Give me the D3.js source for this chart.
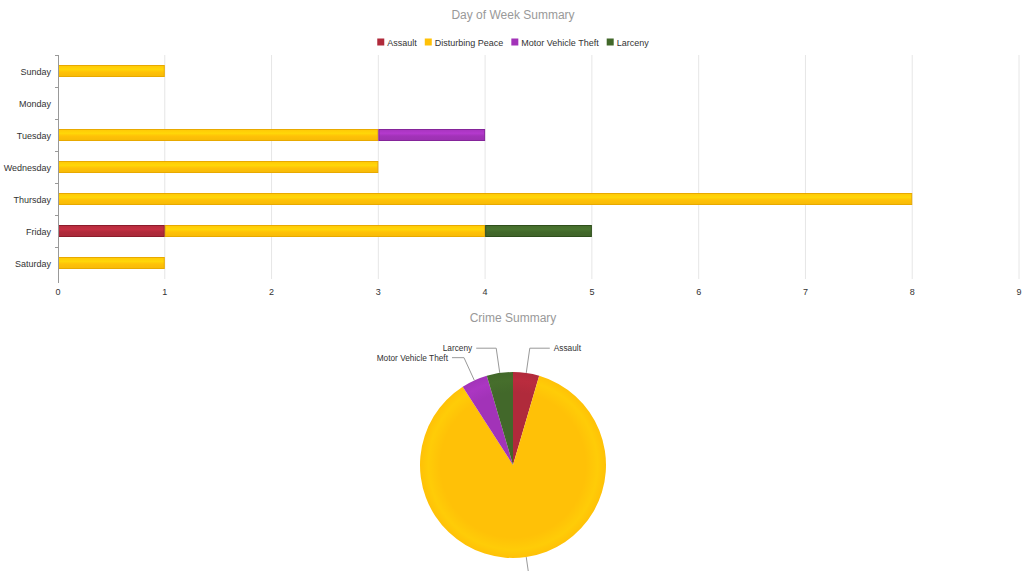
<!DOCTYPE html>
<html lang="en">
<head>
	<meta charset="UTF-8">
	<title>Day of Week Summary</title>
	<script src="https://d3js.org/d3.v7.min.js"></script>
	<style>
		body, html {
			margin: 0;
			padding: 0;
			width: 100%;
			height: 100%;
			overflow: hidden;
			background: #fff;
		}
		svg {
			display: block;
			font-family: "Liberation Sans", Arial, sans-serif;
		}
		.title {
			font-size: 12px;
			fill: #999;
			text-anchor: middle;
		}
		.tick-label {
			font-size: 9px;
			fill: #333;
		}
		.legend-label {
			font-size: 9px;
			fill: #333;
		}
		.pie-label {
			font-size: 8.3px;
			fill: #333;
		}
	</style>
</head>
<body>
<div id="chart"></div>
	<script>
		// Data
		const days = ["Sunday", "Monday", "Tuesday", "Wednesday", "Thursday", "Friday", "Saturday"];
		const crimes = ["Assault", "Disturbing Peace", "Motor Vehicle Theft", "Larceny"];
		const assault = [0, 0, 0, 0, 0, 1, 0];
		const disturbingPeace = [1, 0, 3, 3, 8, 3, 1];
		const motorVehicleTheft = [0, 0, 1, 0, 0, 0, 0];
		const larceny = [0, 0, 0, 0, 0, 1, 0];
		const xTicks = [0, 1, 2, 3, 4, 5, 6, 7, 8, 9];

		const colors = {
			"Assault": "#b02a3b",
			"Disturbing Peace": "#ffc107",
			"Motor Vehicle Theft": "#a233b8",
			"Larceny": "#42682a"
		};
		const borders = {
			"Assault": "#8c1c2b",
			"Disturbing Peace": "#e8a900",
			"Motor Vehicle Theft": "#85249a",
			"Larceny": "#2f4f1c"
		};

		const width = 1024;
		const height = 571;

		const svg = d3.select("#chart")
			.append("svg")
			.attr("width", width)
			.attr("height", height);

		const defs = svg.append("defs");

		// bar gradients: lighter band in upper half, pie: soft ring near the edge
		crimes.forEach((c, i) => {
			const base = d3.color(colors[c]);
			const g = defs.append("linearGradient")
				.attr("id", "bar-grad-" + i)
				.attr("x1", 0).attr("y1", 0).attr("x2", 0).attr("y2", 1);
			g.append("stop").attr("offset", "0%").attr("stop-color", base.brighter(0.1));
			g.append("stop").attr("offset", "35%").attr("stop-color", base.brighter(0.3));
			g.append("stop").attr("offset", "60%").attr("stop-color", base);
			g.append("stop").attr("offset", "100%").attr("stop-color", base.darker(0.1));

			const r = defs.append("radialGradient")
				.attr("id", "pie-grad-" + i)
				.attr("gradientUnits", "userSpaceOnUse")
				.attr("cx", 0).attr("cy", 0).attr("r", 93);
			r.append("stop").attr("offset", "0%").attr("stop-color", base);
			r.append("stop").attr("offset", "78%").attr("stop-color", base);
			r.append("stop").attr("offset", "91%").attr("stop-color", base.brighter(0.15));
			r.append("stop").attr("offset", "100%").attr("stop-color", base);
		});

		// ---------- Bar chart ----------
		svg.append("text")
			.attr("class", "title")
			.attr("x", 513)
			.attr("y", 19)
			.text("Day of Week Summary");

		// legend, laid out from measured text widths and centred
		const legend = svg.append("g");
		let lx = 0;
		crimes.forEach((c, i) => {
			const item = legend.append("g").attr("transform", `translate(${lx},0)`);
			item.append("rect")
				.attr("x", 0)
				.attr("y", 38.5)
				.attr("width", 7)
				.attr("height", 7)
				.attr("fill", colors[c]);
			const t = item.append("text")
				.attr("class", "legend-label")
				.attr("x", 10)
				.attr("y", 45.5)
				.text(c);
			lx += 10 + t.node().getComputedTextLength() + 8;
		});
		legend.attr("transform", `translate(${513 - (lx - 8) / 2},0)`);

		const margin = { top: 55, left: 58, right: 1019, bottom: 279 };

		const x = d3.scaleLinear()
			.domain([0, 9])
			.range([margin.left, margin.right]);

		const yOuter = d3.scaleBand()
			.domain(days)
			.range([margin.top, margin.bottom]);

		// gridlines
		svg.append("g")
			.selectAll("line")
			.data(xTicks.slice(1))
			.enter()
			.append("line")
			.attr("x1", d => x(d))
			.attr("x2", d => x(d))
			.attr("y1", margin.top)
			.attr("y2", margin.bottom)
			.attr("stroke", "#e6e6e6")
			.attr("stroke-width", 1);

		// x tick labels
		svg.append("g")
			.selectAll("text")
			.data(xTicks)
			.enter()
			.append("text")
			.attr("class", "tick-label")
			.attr("x", d => x(d))
			.attr("y", 295)
			.attr("text-anchor", "middle")
			.text(d => d);

		const table = days.map((d, i) => ({
			day: d,
			"Assault": assault[i],
			"Disturbing Peace": disturbingPeace[i],
			"Motor Vehicle Theft": motorVehicleTheft[i],
			"Larceny": larceny[i]
		}));

		const series = d3.stack().keys(crimes)(table);

		const barH = 12;
		series.forEach((s, i) => {
			svg.append("g")
				.selectAll("rect")
				.data(s.filter(d => d[1] - d[0] > 0))
				.enter()
				.append("rect")
				.attr("x", d => x(d[0]) + 0.5)
				.attr("y", d => yOuter(d.data.day) + yOuter.bandwidth() / 2 - barH / 2 + 0.5)
				.attr("width", d => x(d[1]) - x(d[0]) - 1)
				.attr("height", barH - 1)
				.attr("fill", "url(#bar-grad-" + i + ")")
				.attr("stroke", borders[s.key])
				.attr("stroke-width", 1);
		});

		// y axis
		const yAxis = svg.append("g");
		yAxis.append("line")
			.attr("x1", margin.left + 0.5)
			.attr("x2", margin.left + 0.5)
			.attr("y1", margin.top)
			.attr("y2", margin.bottom + 4)
			.attr("stroke", "#999");
		yAxis.selectAll(".ytick")
			.data(days)
			.enter()
			.append("line")
			.attr("x1", margin.left - 3)
			.attr("x2", margin.left)
			.attr("y1", d => yOuter(d) + 0.5)
			.attr("y2", d => yOuter(d) + 0.5)
			.attr("stroke", "#999");
		yAxis.selectAll("text")
			.data(days)
			.enter()
			.append("text")
			.attr("class", "tick-label")
			.attr("x", 51)
			.attr("y", d => yOuter(d) + yOuter.bandwidth() / 2 + 3.5)
			.attr("text-anchor", "end")
			.text(d => d);

		// ---------- Pie chart ----------
		svg.append("text")
			.attr("class", "title")
			.attr("x", 513)
			.attr("y", 322)
			.text("Crime Summary");

		const totals = crimes.map((c, i) => ({
			name: c,
			index: i,
			value: d3.sum(table, d => d[c])
		}));

		const radius = 93;
		const cx = 513, cy = 465;

		const pie = d3.pie().sort(null).value(d => d.value);
		const arc = d3.arc().innerRadius(0).outerRadius(radius);
		const arcs = pie(totals);

		const pieG = svg.append("g").attr("transform", `translate(${cx},${cy})`);

		pieG.selectAll("path")
			.data(arcs)
			.enter()
			.append("path")
			.attr("d", arc)
			.attr("fill", d => "url(#pie-grad-" + d.data.index + ")");

		// connectors and labels
		arcs.forEach(d => {
			const a = (d.startAngle + d.endAngle) / 2;
			const x0 = Math.sin(a) * radius, y0 = -Math.cos(a) * radius;
			const x1 = Math.sin(a) * (radius + 25), y1 = -Math.cos(a) * (radius + 25);
			const right = x1 >= 0;
			const len = Math.abs(x1) > 30 ? 12 : 20;
			const x2 = x1 + (right ? len : -len);
			pieG.append("polyline")
				.attr("points", [[x0, y0], [x1, y1], [x2, y1]].map(p => p.join(",")).join(" "))
				.attr("fill", "none")
				.attr("stroke", "#999")
				.attr("stroke-width", 1);
			pieG.append("text")
				.attr("class", "pie-label")
				.attr("x", x2 + (right ? 4 : -4))
				.attr("y", y1 + 3)
				.attr("text-anchor", right ? "start" : "end")
				.text(d.data.name);
		});
	</script>
</body>
</html>
